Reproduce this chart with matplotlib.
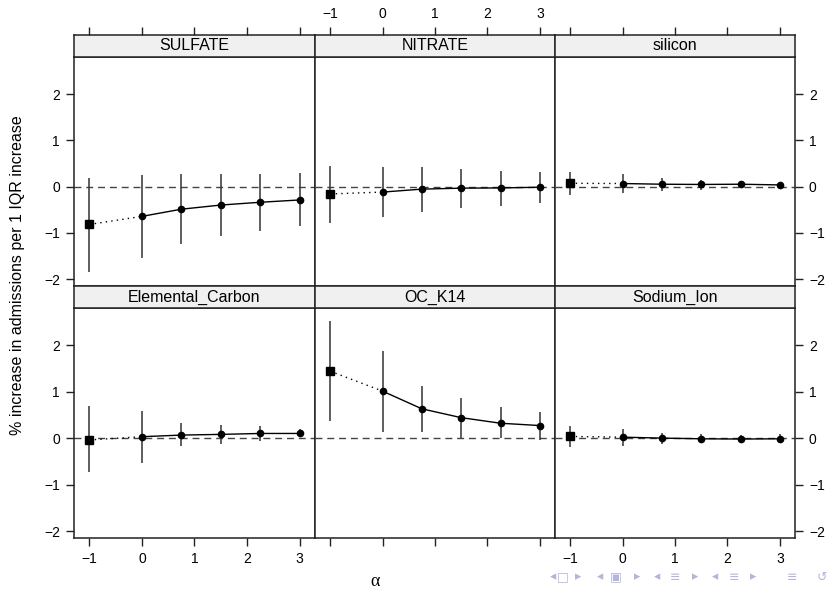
import matplotlib.pyplot as plt

plt.rcParams['font.family'] = ['Liberation Sans', 'DejaVu Sans']

# alpha values on the x axis
alpha = [-1, 0, 0.75, 1.5, 2.25, 3]

panels = ["SULFATE", "NITRATE", "silicon", "Elemental_Carbon", "OC_K14", "Sodium_Ion"]

sulfate_est = [-0.82, -0.645, -0.49, -0.40, -0.34, -0.29]
sulfate_lo = [-1.85, -1.54, -1.25, -1.07, -0.96, -0.86]
sulfate_hi = [0.19, 0.25, 0.27, 0.27, 0.28, 0.29]

nitrate_est = [-0.16, -0.12, -0.056, -0.035, -0.03, -0.015]
nitrate_lo = [-0.79, -0.66, -0.54, -0.465, -0.41, -0.36]
nitrate_hi = [0.445, 0.42, 0.43, 0.38, 0.34, 0.32]

silicon_est = [0.07, 0.065, 0.05, 0.045, 0.05, 0.035]
silicon_lo = [-0.19, -0.14, -0.09, -0.07, 0.0, -0.02]
silicon_hi = [0.32, 0.27, 0.18, 0.14, 0.10, 0.08]

ec_est = [-0.04, 0.03, 0.065, 0.08, 0.10, 0.10]
ec_lo = [-0.74, -0.54, -0.18, -0.13, -0.07, 0.035]
ec_hi = [0.70, 0.59, 0.32, 0.28, 0.27, 0.20]

oc_est = [1.44, 1.01, 0.63, 0.44, 0.32, 0.27]
oc_lo = [0.37, 0.14, 0.13, 0.0, 0.0, -0.04]
oc_hi = [2.51, 1.87, 1.13, 0.87, 0.66, 0.57]

na_est = [0.035, 0.02, 0.0, -0.015, -0.02, -0.015]
na_lo = [-0.2, -0.17, -0.13, -0.11, -0.09, -0.09]
na_hi = [0.27, 0.19, 0.12, 0.09, 0.07, 0.085]

data = [
    (sulfate_est, sulfate_lo, sulfate_hi),
    (nitrate_est, nitrate_lo, nitrate_hi),
    (silicon_est, silicon_lo, silicon_hi),
    (ec_est, ec_lo, ec_hi),
    (oc_est, oc_lo, oc_hi),
    (na_est, na_lo, na_hi),
]

W, H = 831, 594
fig = plt.figure(figsize=(W / 100, H / 100), dpi=100)


def box(x0, y0, x1, y1):
    # pixel box (top-left origin) -> figure fraction rect
    return [x0 / W, 1 - y1 / H, (x1 - x0) / W, (y1 - y0) / H]


col_x = [(74, 315), (315, 555), (555, 795)]
row_y = [(35, 57, 286), (286, 308, 538)]
frame_col = "#222222"
xt = [-1, 0, 1, 2, 3]
yt = [-2, -1, 0, 1, 2]

for k in range(6):
    r, c = divmod(k, 3)
    x0, x1 = col_x[c]
    s0, p0, p1 = row_y[r]
    ax = fig.add_axes(box(x0, p0, x1, p1))
    st = fig.add_axes(box(x0, s0, x1, p0))

    est, lo, hi = data[k]
    ax.axhline(0, color="#444444", lw=1, ls=(0, (5, 3.5)), zorder=1)
    ax.vlines(alpha, lo, hi, color="#333333", lw=1.1, zorder=2)
    ax.plot(alpha[:2], est[:2], color="black", lw=1, ls=(0, (1, 3)), zorder=3)
    ax.plot(alpha[1:], est[1:], color="black", lw=1, zorder=3)
    ax.plot(alpha[1:], est[1:], "o", color="black", ms=4.5, zorder=4)
    ax.plot(alpha[:1], est[:1], "s", color="black", ms=6, zorder=4)

    ax.set_xlim(-1.29, 3.29)
    ax.set_ylim(-2.15, 2.8)
    ax.set_xticks(xt)
    ax.set_yticks(yt)
    ax.set_xticklabels(["\u22121", "0", "1", "2", "3"])
    ax.set_yticklabels(["\u22122", "\u22121", "0", "1", "2"])
    for sp in ax.spines.values():
        sp.set_color(frame_col)
        sp.set_linewidth(1.1)
    ax.tick_params(direction="out", length=6, width=1, colors=frame_col,
                   labelcolor="black", labelsize=10, pad=4)

    # x ticks: bottom row on panel bottom, top row on strip top
    if r == 1:
        ax.tick_params(axis="x", bottom=True, labelbottom=(c != 1), top=False)
    else:
        ax.tick_params(axis="x", bottom=False, labelbottom=False)

    # y ticks: left column on left, right column on right
    if c == 0:
        ax.tick_params(axis="y", left=True, labelleft=True, right=False)
    elif c == 2:
        ax.tick_params(axis="y", left=False, labelleft=False, right=True, labelright=True)
    else:
        ax.tick_params(axis="y", left=False, labelleft=False)

    st.set_facecolor("#f0f0f0")
    st.set_xlim(-1.29, 3.29)
    st.set_yticks([])
    for sp in st.spines.values():
        sp.set_color(frame_col)
        sp.set_linewidth(1.1)
    if r == 0:
        st.set_xticks(xt)
        st.set_xticklabels(["\u22121", "0", "1", "2", "3"])
        st.tick_params(axis="x", direction="out", length=6, width=1, colors=frame_col,
                       labelcolor="black", labelsize=10, pad=4,
                       bottom=False, labelbottom=False, top=True, labeltop=(c == 1))
    else:
        st.set_xticks([])
    st.text(0.5, 0.5, panels[k], transform=st.transAxes, ha="center", va="center",
            fontsize=11.5)

fig.text(18 / W, 1 - 275 / H, "% increase in admissions per 1 IQR increase",
         rotation=90, ha="center", va="center", fontsize=11.5)
fig.text(375 / W, 1 - 582 / H, "\u03b1", ha="center", va="center",
         fontsize=13, family=["Liberation Serif", "DejaVu Serif"])

# beamer navigation symbols
nav = [("\u25c2", 553), ("\u25a1", 563), ("\u25b8", 578), ("\u25c2", 600), ("\u25a3", 616),
       ("\u25b8", 637), ("\u25c2", 657), ("\u2261", 675), ("\u25b8", 695),
       ("\u25c2", 715), ("\u2261", 734), ("\u25b8", 753), ("\u2261", 792), ("\u21ba", 822)]
for ch, px in nav:
    fig.text(px / W, 1 - 577 / H, ch, ha="center", va="center", fontsize=9,
             color="#b4b4dc", family=["DejaVu Sans"])

fig.savefig("out.png", dpi=100)
